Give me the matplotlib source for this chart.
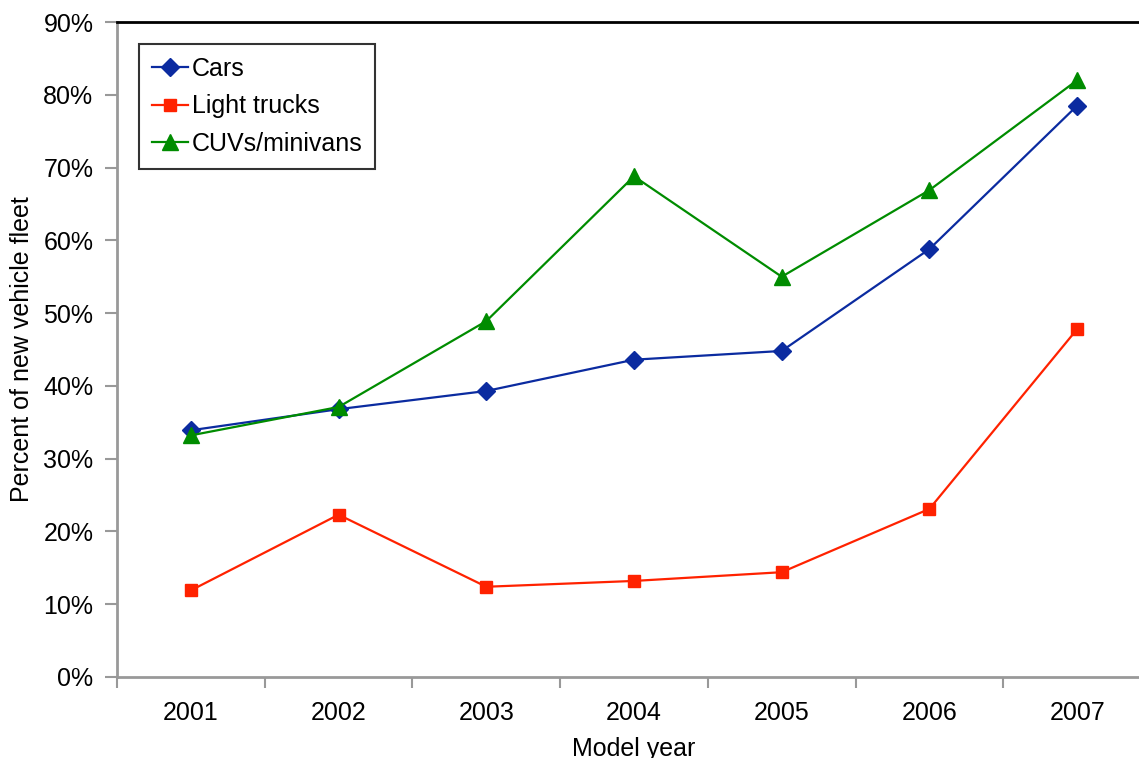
import matplotlib
matplotlib.use("Agg")
from matplotlib import pyplot as plt
from matplotlib.ticker import FixedLocator, FuncFormatter

plt.rcParams['font.family'] = ['Liberation Sans', 'DejaVu Sans']

# data
years = ["2001", "2002", "2003", "2004", "2005", "2006", "2007"]
cars = [33.9, 36.8, 39.3, 43.6, 44.8, 58.8, 78.5]
light_trucks = [11.9, 22.3, 12.4, 13.2, 14.4, 23.1, 47.8]
cuvs = [33.2, 37.1, 48.9, 68.8, 55.0, 66.9, 82.0]

W, H = 1139, 758
fig = plt.figure(figsize=(W / 100, H / 100), dpi=100)
# axes in pixel terms: left 117, right 1151 (beyond figure), top 22, bottom 677
ax = fig.add_axes([117 / W, (H - 677) / H, (1151 - 117) / W, (677 - 22) / H])

x = list(range(len(years)))
ax.plot(x, cars, color="#0B2BA0", lw=1.6, marker="D", ms=9, label="Cars")
ax.plot(x, light_trucks, color="#FF2200", lw=1.6, marker="s", ms=9, label="Light trucks")
ax.plot(x, cuvs, color="#008C00", lw=1.6, marker="^", ms=12, label="CUVs/minivans")

ax.set_xlim(-0.5, len(years) - 0.5)
ax.set_ylim(0, 90)
ax.set_yticks(range(0, 91, 10))
ax.yaxis.set_major_formatter(FuncFormatter(lambda v, p: "%d%%" % v))
ax.set_xticks(x)
ax.set_xticklabels(years)
ax.xaxis.set_minor_locator(FixedLocator([i - 0.5 for i in range(len(years) + 1)]))
ax.tick_params(axis="x", which="major", length=0, pad=17, labelsize=18)
ax.tick_params(axis="x", which="minor", length=8, width=1.5, color="#999999", direction="out")
ax.tick_params(axis="y", length=9, width=1.5, color="#999999", pad=8, labelsize=18)

for s in ["left", "bottom"]:
    ax.spines[s].set_color("#999999")
    ax.spines[s].set_linewidth(2)
ax.spines["top"].set_color("black")
ax.spines["top"].set_linewidth(2)
ax.spines["right"].set_visible(False)

ax.set_xlabel("Model year", fontsize=18, labelpad=9)
ax.set_ylabel("Percent of new vehicle fleet", fontsize=18, labelpad=7)

leg = ax.legend(loc="upper left", bbox_to_anchor=(22 / (1151 - 117), 1 - 22 / 655),
                fontsize=18, frameon=True, fancybox=False, edgecolor="black",
                handlelength=1.45, handletextpad=0.15, borderpad=0.5, labelspacing=0.55,
                borderaxespad=0)
leg.get_frame().set_linewidth(1.5)

fig.savefig("out.png", dpi=100)
